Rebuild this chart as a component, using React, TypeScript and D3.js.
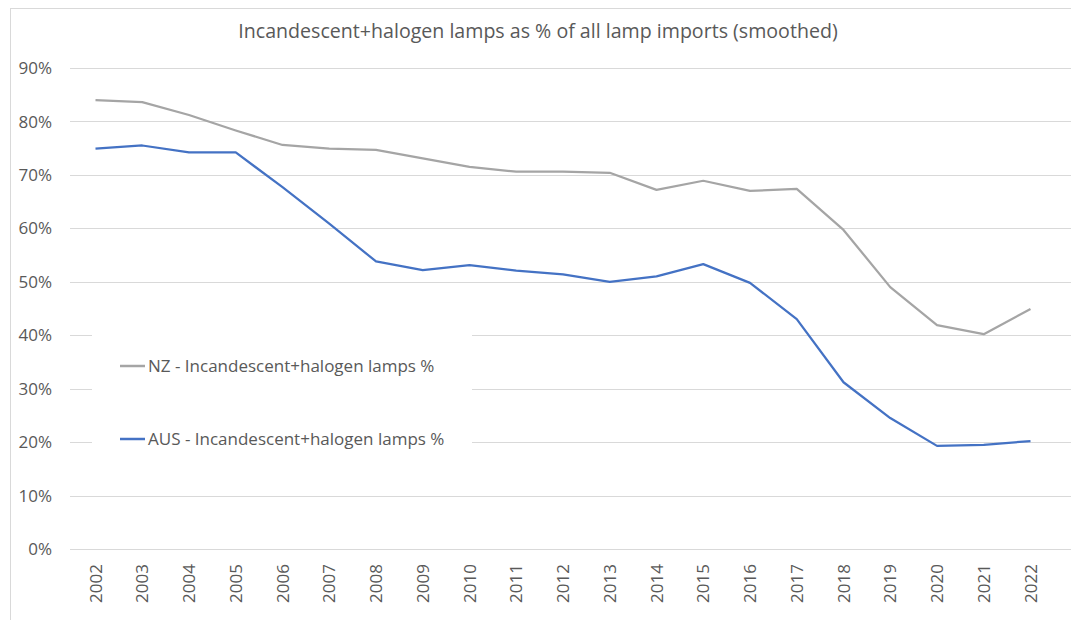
import React from "react";
import * as d3 from "d3";

const years = [
  "2002","2003","2004","2005","2006","2007","2008","2009","2010","2011","2012",
  "2013","2014","2015","2016","2017","2018","2019","2020","2021","2022",
];
const nzValues = [
  84.0, 83.6, 81.2, 78.3, 75.6, 74.9, 74.7, 73.1, 71.5, 70.6, 70.6,
  70.4, 67.2, 68.9, 67.0, 67.4, 59.7, 49.0, 41.9, 40.2, 44.9,
];
const ausValues = [
  74.9, 75.5, 74.2, 74.2, 67.7, 60.9, 53.8, 52.2, 53.1, 52.1, 51.4,
  50.0, 51.0, 53.3, 49.8, 43.0, 31.2, 24.5, 19.3, 19.5, 20.2,
];
const yTicks = [0, 10, 20, 30, 40, 50, 60, 70, 80, 90];
const title = "Incandescent+halogen lamps as % of all lamp imports (smoothed)";
const seriesNames = [
  "NZ - Incandescent+halogen lamps %",
  "AUS - Incandescent+halogen lamps %",
];
const seriesColors = ["#A5A5A5", "#4472C4"];

const W = 1071;
const H = 620;
const FONT = "'Open Sans', sans-serif";
const TEXT = "#595959";
const GRID = "#D9D9D9";

export default function App() {
  const x = d3.scalePoint<string>().domain(years).range([95.5, 1030.5]);
  const y = d3.scaleLinear().domain([0, 90]).range([549, 68]);
  const line = d3
    .line<number>()
    .x((_, i) => x(years[i]) as number)
    .y((d) => y(d));
  const series = [nzValues, ausValues];

  return (
    <svg
      width={W}
      height={H}
      style={{ position: "absolute", left: 0, top: 0, background: "#fff" }}
      fontFamily={FONT}
    >
      <rect x={0} y={0} width={W} height={H} fill="#fff" />
      <rect x={10.5} y={8.5} width={W + 10} height={H + 10} fill="none" stroke={GRID} strokeWidth={1} />
      <text x={538} y={38} textAnchor="middle" fontSize={19.6} fill={TEXT}>
        {title}
      </text>
      {yTicks.map((t) => (
        <g key={t}>
          <line x1={70} x2={W} y1={Math.round(y(t)) + 0.5} y2={Math.round(y(t)) + 0.5} stroke={GRID} strokeWidth={1} />
          <text x={52} y={y(t)} dy="0.36em" textAnchor="end" fontSize={17} fill={TEXT}>
            {t}%
          </text>
        </g>
      ))}
      {years.map((yr) => (
        <text
          key={yr}
          transform={`translate(${(x(yr) as number) + 6},564) rotate(-90)`}
          textAnchor="end"
          fontSize={17}
          fill={TEXT}
        >
          {yr}
        </text>
      ))}
      {series.map((s, i) => (
        <path key={i} d={line(s) || ""} fill="none" stroke={seriesColors[i]} strokeWidth={2.25} strokeLinejoin="round" />
      ))}
      <rect x={92} y={305} width={380} height={170} fill="#fff" />
      {seriesNames.map((n, i) => {
        const ly = i === 0 ? 366 : 439;
        return (
          <g key={n}>
            <line x1={120} x2={145} y1={ly} y2={ly} stroke={seriesColors[i]} strokeWidth={2.5} />
            <text x={148} y={ly} dy="0.36em" fontSize={17} fill={TEXT}>
              {n}
            </text>
          </g>
        );
      })}
    </svg>
  );
}
